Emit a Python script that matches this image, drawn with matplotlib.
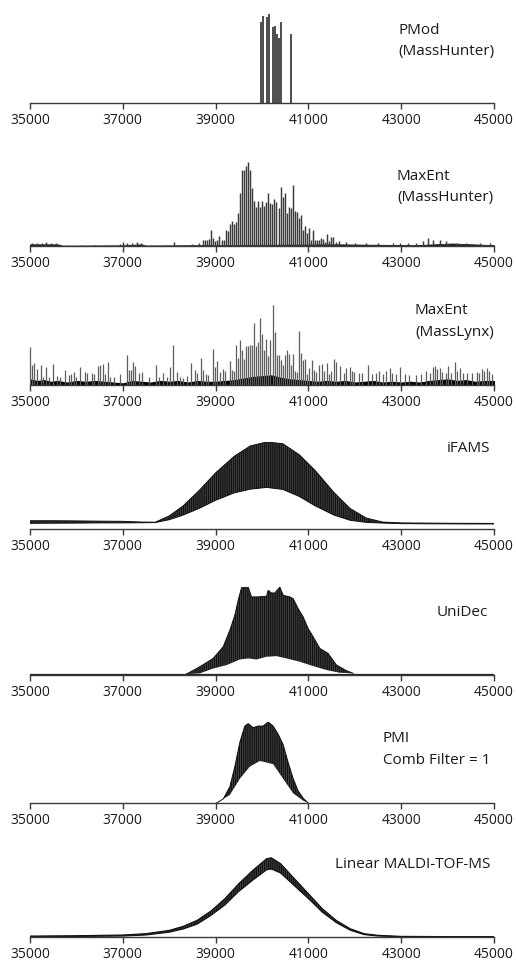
import numpy as np
import matplotlib
matplotlib.use("Agg")
import matplotlib.pyplot as plt

plt.rcParams['font.family'] = ['Open Sans', 'DejaVu Sans']
plt.rcParams['hatch.linewidth'] = 0.45

# ---- data (intensities relative to panel max) ----
ticks = [35000, 37000, 39000, 41000, 43000, 45000]

# PMod (MassHunter) stick list
pmod_mass = [39969, 40012, 40098, 40141, 40234, 40277, 40326, 40369, 40412, 40628]
pmod_int = [0.914, 0.981, 0.962, 1.0, 0.850, 0.868, 0.771, 0.733, 0.906, 0.771]

# MaxEnt (MassHunter) sticks
mh_left_mass = [35050, 35150, 35250, 35350, 35450, 35550, 35800, 36100, 36400, 36700, 36950,
                37000, 37100, 37200, 37300, 37400, 37600, 37900, 38100, 38300, 38500, 38650]
mh_left_int = [0.03, 0.04, 0.035, 0.045, 0.04, 0.03, 0.015, 0.012, 0.015, 0.012, 0.02,
               0.05, 0.035, 0.04, 0.045, 0.03, 0.015, 0.012, 0.045, 0.015, 0.02, 0.03]
mh_mid_mass = [38721, 38764, 38807, 38850, 38900, 38943, 38993, 39036, 39079, 39129,
               39171, 39214, 39257, 39300, 39343, 39386, 39429, 39479, 39521, 39564,
               39607, 39650, 39700, 39743, 39786, 39829, 39871, 39914, 39957, 40000,
               40043, 40086, 40136, 40179, 40221, 40264, 40307, 40357, 40400, 40443,
               40486, 40529, 40579, 40621, 40664, 40707, 40750, 40793, 40836, 40879,
               40929, 40971, 41014, 41057, 41100, 41143, 41186, 41229, 41279, 41321,
               41364, 41407, 41450, 41493, 41536, 41586]
mh_mid_int = [0.068, 0.076, 0.076, 0.088, 0.188, 0.092, 0.06, 0.076, 0.116, 0.076,
              0.068, 0.188, 0.176, 0.26, 0.296, 0.26, 0.288, 0.396, 0.628, 0.90,
              0.908, 0.948, 1.0, 0.90, 0.688, 0.54, 0.46, 0.536, 0.46, 0.54,
              0.476, 0.528, 0.628, 0.508, 0.50, 0.564, 0.528, 0.448, 0.70, 0.588,
              0.628, 0.388, 0.468, 0.448, 0.728, 0.416, 0.408, 0.328, 0.368, 0.188,
              0.236, 0.156, 0.22, 0.076, 0.188, 0.068, 0.068, 0.076, 0.092, 0.088,
              0.048, 0.148, 0.06, 0.108, 0.108, 0.048]
mh_right_mass = [41650, 41820, 42000, 42251, 42500, 42825, 42969, 43150, 43328, 43472,
                 43580, 43687, 43830, 43974, 44190, 44405, 44692, 44907]
mh_right_int = [0.06, 0.05, 0.03, 0.04, 0.03, 0.03, 0.04, 0.035, 0.04, 0.06,
                0.10, 0.07, 0.07, 0.06, 0.04, 0.03, 0.03, 0.04]
mh_floor_mass = [35000, 35600, 35700, 37000, 37400, 37500, 38700, 41600, 43300, 44100, 45000]
mh_floor_int = [0.02, 0.02, 0.005, 0.008, 0.02, 0.006, 0.01, 0.02, 0.01, 0.03, 0.01]

# MaxEnt (MassLynx) sticks
ml_left_mass = [35000, 35051, 35087, 35159, 35231, 35289, 35354, 35419, 35505, 35578,
                35650, 35744, 35838, 35881, 35939, 35996, 36083, 36184, 36227, 36328,
                36372, 36473, 36516, 36567, 36625, 36675, 36733, 36805, 36935, 37094,
                37130, 37180, 37224, 37267, 37354, 37419, 37563, 37708, 37780, 37874,
                37960, 38025, 38076, 38162]
ml_left_int = [0.47, 0.252, 0.273, 0.197, 0.252, 0.097, 0.231, 0.097, 0.265, 0.113,
               0.105, 0.189, 0.126, 0.139, 0.168, 0.097, 0.223, 0.168, 0.147, 0.147,
               0.139, 0.24, 0.252, 0.265, 0.139, 0.282, 0.097, 0.097, 0.134, 0.37,
               0.189, 0.189, 0.286, 0.24, 0.147, 0.168, 0.097, 0.244, 0.097, 0.155,
               0.097, 0.223, 0.504, 0.16]
ml_mid_mass = [38231, 38303, 38374, 38461, 38554, 38605, 38684, 38734, 38791, 38842,
               38942, 38993, 39036, 39093, 39165, 39201, 39302, 39345, 39395, 39439,
               39482, 39525, 39568, 39611, 39654, 39697, 39741, 39784, 39827, 39870,
               39913, 39956, 40007, 40050, 40093, 40136, 40179, 40229, 40273, 40316,
               40359, 40402, 40445, 40488, 40531, 40575, 40618, 40661, 40704, 40747,
               40797, 40841, 40891, 40934, 40977, 41020, 41071, 41114, 41157, 41236,
               41286, 41337, 41394, 41444]
ml_mid_int = [0.105, 0.088, 0.118, 0.273, 0.189, 0.147, 0.34, 0.189, 0.139, 0.13,
              0.454, 0.223, 0.298, 0.16, 0.2, 0.172, 0.294, 0.189, 0.172, 0.496,
              0.34, 0.567, 0.433, 0.328, 0.483, 0.483, 0.496, 0.496, 0.777, 0.483,
              0.538, 0.832, 0.643, 0.441, 0.58, 0.357, 0.559, 1.0, 0.664, 0.37,
              0.37, 0.307, 0.256, 0.37, 0.433, 0.382, 0.244, 0.391, 0.181, 0.16,
              0.672, 0.403, 0.307, 0.328, 0.139, 0.214, 0.307, 0.189, 0.16, 0.244,
              0.265, 0.181, 0.273, 0.139]
ml_right_mass = [41485, 41542, 41600, 41686, 41758, 41802, 41888, 41931, 41989, 42090,
                 42162, 42291, 42363, 42450, 42522, 42608, 42680, 42766, 42810, 42896,
                 42982, 43076, 43170, 43328, 43436, 43544, 43616, 43688, 43731, 43774,
                 43832, 43890, 43962, 44012, 44077, 44170, 44206, 44264, 44322, 44408,
                 44523, 44624, 44682, 44732, 44782, 44840, 44898, 44948]
ml_right_int = [0.176, 0.324, 0.282, 0.24, 0.155, 0.21, 0.227, 0.176, 0.164, 0.155,
                0.155, 0.252, 0.143, 0.155, 0.176, 0.143, 0.176, 0.21, 0.155, 0.143,
                0.227, 0.143, 0.126, 0.126, 0.143, 0.176, 0.155, 0.227, 0.24, 0.197,
                0.218, 0.164, 0.155, 0.24, 0.155, 0.282, 0.176, 0.21, 0.155, 0.155,
                0.155, 0.164, 0.155, 0.197, 0.176, 0.218, 0.176, 0.143]
ml_floor_mass = [35000, 35150, 35300, 35450, 35600, 35800, 36000, 36200, 36400, 36600,
                 36800, 37000, 37200, 37400, 37600, 37800, 38000, 38200, 38400, 38600,
                 38800, 39000, 39200, 39400, 39600, 39800, 40000, 40200, 40400, 40600,
                 40800, 41000, 41200, 41400, 41600, 41800, 42000, 42200, 42400, 42600,
                 42800, 43000, 43200, 43400, 43600, 43800, 44000, 44200, 44400, 44600,
                 44800, 45000]
ml_floor_int = [0.07, 0.05, 0.06, 0.04, 0.05, 0.03, 0.05, 0.04, 0.05, 0.04,
                0.03, 0.02, 0.05, 0.04, 0.03, 0.05, 0.04, 0.05, 0.03, 0.05,
                0.04, 0.04, 0.05, 0.06, 0.08, 0.10, 0.11, 0.12, 0.09, 0.07,
                0.06, 0.05, 0.04, 0.05, 0.04, 0.05, 0.03, 0.04, 0.05, 0.03,
                0.04, 0.03, 0.04, 0.03, 0.05, 0.06, 0.07, 0.05, 0.06, 0.04,
                0.05, 0.05]

# iFAMS comb envelope
if_mass = [35000, 35500, 36000, 36500, 37000, 37400, 37700, 38000, 38300, 38650,
           39000, 39400, 39750, 40100, 40450, 40800, 41150, 41550, 41900, 42250,
           42600, 43000, 43500, 44000, 44500, 45000]
if_upper = [0.095, 0.095, 0.093, 0.09, 0.088, 0.08, 0.078, 0.15, 0.265, 0.445,
            0.645, 0.835, 0.955, 1.0, 0.98, 0.855, 0.67, 0.42, 0.235, 0.125,
            0.08, 0.07, 0.068, 0.066, 0.065, 0.064]
if_lower = [0.065, 0.067, 0.068, 0.07, 0.07, 0.072, 0.074, 0.107, 0.16, 0.238,
            0.33, 0.415, 0.458, 0.478, 0.455, 0.375, 0.265, 0.16, 0.1, 0.076,
            0.068, 0.062, 0.06, 0.059, 0.058, 0.058]

# UniDec comb envelope
ud_upper_mass = [38374, 38661, 38949, 39164, 39307, 39415, 39487, 39559, 39702, 39774,
                 39882, 40097, 40133, 40205, 40277, 40384, 40456, 40600, 40672, 40779,
                 40887, 40995, 41102, 41246, 41425, 41605, 41820, 41964]
ud_upper = [0.011, 0.094, 0.189, 0.321, 0.509, 0.679, 0.849, 0.992, 1.0, 0.887,
            0.887, 0.894, 0.962, 0.932, 0.932, 1.0, 0.906, 0.887, 0.868, 0.755,
            0.66, 0.528, 0.434, 0.302, 0.245, 0.113, 0.049, 0.019]
ud_lower_mass = [38661, 38949, 39236, 39523, 39702, 39882, 40097, 40313, 40528, 40815,
                 41102, 41390, 41677]
ud_lower = [0.019, 0.075, 0.113, 0.177, 0.189, 0.177, 0.208, 0.215, 0.189, 0.151,
            0.102, 0.057, 0.026]
ud_base = 0.011

# PMI comb envelope
pmi_upper_mass = [39020, 39164, 39307, 39415, 39523, 39630, 39702, 39810, 39918, 40025,
                  40133, 40241, 40348, 40456, 40564, 40672, 40779, 40887, 40995]
pmi_upper = [0.0, 0.05, 0.2, 0.45, 0.75, 0.95, 0.98, 0.93, 0.95, 0.95,
             1.0, 0.95, 0.85, 0.72, 0.5, 0.3, 0.15, 0.06, 0.0]
pmi_lower_mass = [39307, 39523, 39738, 39954, 40097, 40241, 40456, 40672, 40887]
pmi_lower = [0.1, 0.3, 0.45, 0.52, 0.5, 0.48, 0.3, 0.12, 0.03]

# Linear MALDI-TOF-MS envelope
maldi_mass = [35000, 36000, 37000, 37500, 38000, 38300, 38600, 38900, 39200, 39500,
              39800, 40100, 40200, 40400, 40700, 41000, 41300, 41600, 41900, 42200,
              42500, 43000, 44000, 45000]
maldi_upper = [0.012, 0.016, 0.025, 0.042, 0.083, 0.133, 0.208, 0.325, 0.479, 0.667,
               0.833, 0.979, 0.99, 0.917, 0.729, 0.542, 0.354, 0.208, 0.104, 0.042,
               0.021, 0.008, 0.005, 0.004]
maldi_lower = [0.004, 0.006, 0.012, 0.025, 0.06, 0.1, 0.16, 0.27, 0.4, 0.57,
               0.71, 0.84, 0.85, 0.8, 0.64, 0.48, 0.31, 0.18, 0.085, 0.03,
               0.012, 0.003, 0.0, 0.0]

labels = [["PMod", "(MassHunter)"], ["MaxEnt", "(MassHunter)"], ["MaxEnt", "(MassLynx)"],
          ["iFAMS"], ["UniDec"], ["PMI", "Comb Filter = 1"], ["Linear MALDI-TOF-MS"]]

# ---- layout in pixels (axis line y, top of tallest peak y, label x, label line y's) ----
W, H = 516, 966
panels = [(103, 14, 398, [30, 52]), (246, 162, 397, [177, 198]), (385, 305, 415, [311, 332]),
          (529, 442, 447, [449]), (675, 587, 437, [613]), (803, 722, 383, [738, 760]),
          (937, 857, 335, [865])]

fig = plt.figure(figsize=(W / 100, H / 100), dpi=100)
axes = []
for (ybase, ytop, lx, lys), lab in zip(panels, labels):
    ax = fig.add_axes([30 / W, 1 - ybase / H, 464 / W, (ybase - ytop) / H])
    ax.set_xlim(35000, 45000)
    ax.set_ylim(0, 1)
    for s in ['top', 'right', 'left']:
        ax.spines[s].set_visible(False)
    ax.spines['bottom'].set_color('#3a3a3a')
    ax.spines['bottom'].set_linewidth(1.0)
    ax.set_yticks([])
    ax.set_xticks(ticks)
    ax.set_xticklabels([str(t) for t in ticks])
    ax.tick_params(axis='x', direction='out', length=4, width=1.0, color='#3a3a3a',
                   labelsize=10, pad=3.5, labelcolor='#1a1a1a')
    for txt, ly in zip(lab, lys):
        fig.text(lx / W, 1 - ly / H, txt, ha='left', va='center', fontsize=11, color='#1a1a1a')
    axes.append(ax)

# PMod
axes[0].vlines(pmod_mass, 0, pmod_int, color='#2e2e2e', lw=1.2, clip_on=False)

# MaxEnt MassHunter
ax = axes[1]
ax.fill_between(mh_floor_mass, 0, mh_floor_int, color='#222222', lw=0.6)
ax.vlines(np.concatenate([mh_left_mass, mh_mid_mass, mh_right_mass]), 0,
          np.concatenate([mh_left_int, mh_mid_int, mh_right_int]),
          color='#3a3a3a', lw=1.05, clip_on=False)

# MaxEnt MassLynx
ax = axes[2]
ax.vlines(np.concatenate([ml_left_mass, ml_mid_mass, ml_right_mass]), 0,
          np.concatenate([ml_left_int, ml_mid_int, ml_right_int]),
          color='#5e5e5e', lw=0.9, clip_on=False)
ax.fill_between(ml_floor_mass, 0, ml_floor_int, color='#000000', lw=0.8)

comb = dict(facecolor='#111111', edgecolor='#5a5a5a', hatch='||||||||', lw=0)

# iFAMS
ax = axes[3]
ax.fill(np.r_[if_mass, if_mass[::-1]], np.r_[if_upper, if_lower[::-1]], **comb)
ax.plot(if_mass, if_upper, color='#111111', lw=0.7)
ax.plot(if_mass, if_lower, color='#111111', lw=0.7)

# UniDec
ax = axes[4]
ax.axhline(ud_base, color='#222222', lw=0.9)
ax.fill(np.r_[ud_upper_mass, ud_lower_mass[::-1]], np.r_[ud_upper, ud_lower[::-1]], **comb)
ax.plot(ud_upper_mass, ud_upper, color='#111111', lw=0.7)

# PMI
ax = axes[5]
ax.fill(np.r_[pmi_upper_mass, pmi_lower_mass[::-1]], np.r_[pmi_upper, pmi_lower[::-1]], **comb)
ax.plot(pmi_upper_mass, pmi_upper, color='#111111', lw=0.7)

# MALDI
ax = axes[6]
ax.fill(np.r_[maldi_mass, maldi_mass[::-1]], np.r_[maldi_upper, maldi_lower[::-1]], **comb)
ax.plot(maldi_mass, maldi_upper, color='#111111', lw=0.8)
ax.plot(maldi_mass, maldi_lower, color='#111111', lw=0.8)

fig.savefig('out.png', dpi=100)
